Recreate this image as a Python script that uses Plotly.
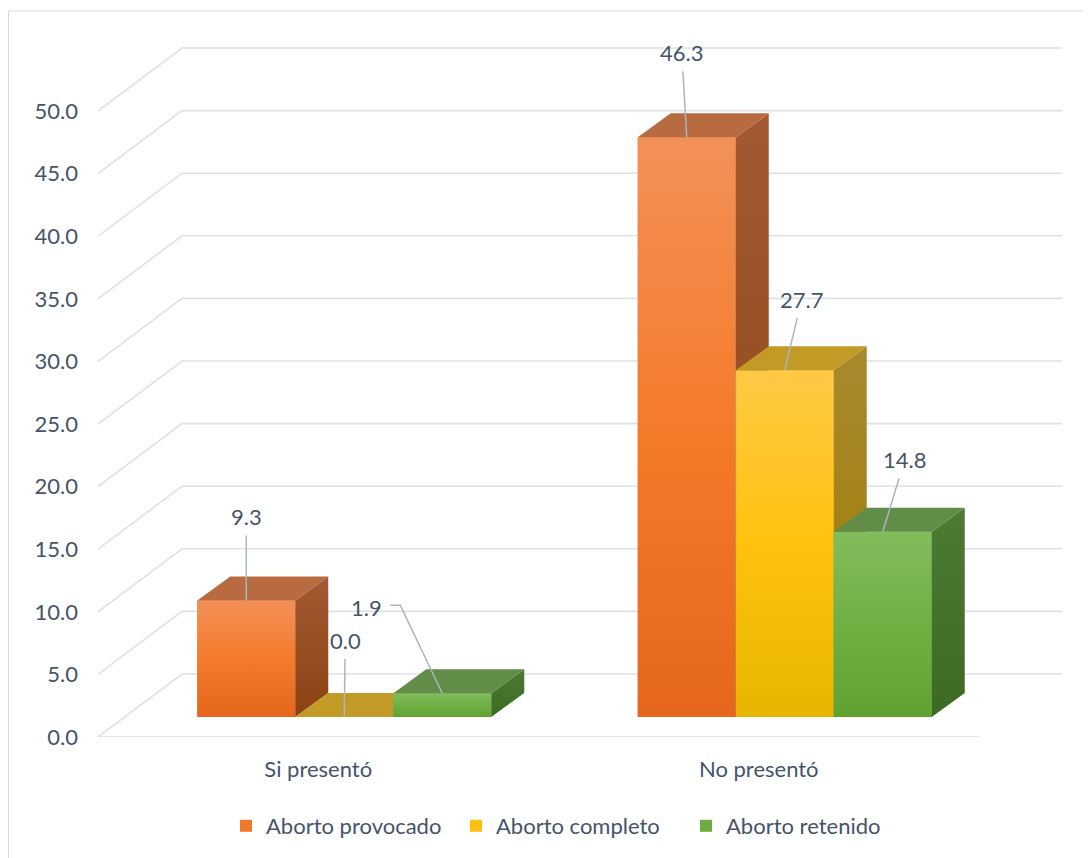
import plotly.graph_objects as go

# ---------------- data ----------------
categories = ["Si presentó", "No presentó"]
series_names = ["Aborto provocado", "Aborto completo", "Aborto retenido"]
provocado = [9.3, 46.3]
completo = [0.0, 27.7]
retenido = [1.9, 14.8]
y_ticks = [0, 5, 10, 15, 20, 25, 30, 35, 40, 45, 50]
y_tick_labels = ["0.0", "5.0", "10.0", "15.0", "20.0", "25.0", "30.0", "35.0", "40.0", "45.0", "50.0"]

series_values = [provocado, completo, retenido]

# ---------------- styling / geometry ----------------
OFF = 8                     # default page body margin
FIG_W, FIG_H = 1091 - OFF, 858 - OFF
ML, MR, MT, MB = 98 - OFF, 29, 46 - OFF, 121
PX_X = 440.5      # pixels per category unit
PX_Y = 12.52      # pixels per value unit
plot_w = FIG_W - ML - MR
plot_h = FIG_H - MT - MB
x_range = [-0.5, -0.5 + plot_w / PX_X]
y_range = [0, plot_h / PX_Y]


def px_to_paper_x(px):
    return (px - OFF - ML) / plot_w


def px_to_paper_y(py):
    return (MT + plot_h - (py - OFF)) / plot_h


WALL_DX = 84 / PX_X
WALL_DY = 63 / PX_Y
BAR_SHIFT = 26 / PX_X
BAR_W = 98 / PX_X
BAR_BASE = 20 / PX_Y
BAR_DX = 33 / PX_X
BAR_DY = 24 / PX_Y

TEXT = "#44546A"
GRID = "#DDE1E7"
LEADER = "#A9B5C4"
FONT = "Lato"
FS = 22

legend_colors = ["#F07A2C", "#FDBF12", "#6DAE43"]
front_grad = [
    [[0, "#E5661C"], [0.5, "#F47B2A"], [1, "#F39059"]],
    [[0, "#E6B500"], [0.5, "#FFC20E"], [1, "#FFC845"]],
    [[0, "#5FA232"], [0.5, "#70B044"], [1, "#82BC5C"]],
]
side_grad = [
    [[0, "#8C4212"], [1, "#A35A32"]],
    [[0, "#A07A00"], [1, "#A88A2E"]],
    [[0, "#3C6A22"], [1, "#4E7B33"]],
]
top_colors = ["#B86A40", "#C29A26", "#628D48"]

fig = go.Figure()

# legend/base bars
for j, name in enumerate(series_names):
    xs = [i + BAR_SHIFT + (j - 1) * BAR_W for i in range(len(categories))]
    fig.add_trace(go.Bar(
        x=xs, y=series_values[j], base=BAR_BASE, width=BAR_W, name=name,
        marker=dict(color=legend_colors[j], line=dict(width=0)),
        hoverinfo="skip",
    ))

# 3D faces
for i in range(len(categories)):
    for j in range(len(series_names)):
        v = series_values[j][i]
        xc = i + BAR_SHIFT + (j - 1) * BAR_W
        x0, x1 = xc - BAR_W / 2, xc + BAR_W / 2
        y0, y1 = BAR_BASE, BAR_BASE + v
        if v > 0:
            fig.add_trace(go.Scatter(
                x=[x0, x1, x1, x0, x0], y=[y0, y0, y1, y1, y0],
                mode="lines", line=dict(width=0), fill="toself",
                fillgradient=dict(type="vertical", colorscale=front_grad[j]),
                showlegend=False, hoverinfo="skip"))
            fig.add_trace(go.Scatter(
                x=[x1, x1, x1 + BAR_DX, x1 + BAR_DX, x1],
                y=[y0, y1, y1 + BAR_DY, y0 + BAR_DY, y0],
                mode="lines", line=dict(width=0), fill="toself",
                fillgradient=dict(type="vertical", colorscale=side_grad[j]),
                showlegend=False, hoverinfo="skip"))
        fig.add_trace(go.Scatter(
            x=[x0, x1, x1 + BAR_DX, x0 + BAR_DX, x0],
            y=[y1, y1, y1 + BAR_DY, y1 + BAR_DY, y1],
            mode="lines", line=dict(width=0), fill="toself",
            fillcolor=top_colors[j],
            showlegend=False, hoverinfo="skip"))

# gridlines (side wall + back wall)
shapes = []
for v in y_ticks:
    shapes.append(dict(
        type="path", xref="x", yref="y", layer="below",
        path=f"M {-0.5},{v} L {-0.5 + WALL_DX},{v + WALL_DY} L {1.5 + WALL_DX},{v + WALL_DY}",
        line=dict(color=GRID, width=1.6)))
# front floor edge
shapes.append(dict(type="line", xref="x", yref="y", layer="below",
                   x0=-0.5, x1=1.5, y0=0, y1=0, line=dict(color=GRID, width=1.6)))
# chart border
shapes.append(dict(type="rect", xref="paper", yref="paper", layer="below",
                   x0=px_to_paper_x(8.5), x1=1.2, y0=-0.4, y1=px_to_paper_y(11),
                   line=dict(color="#D9D9D9", width=1)))

# data labels
label_offsets = {
    (0, 0): (0, -84), (0, 1): (-5, -85),
    (1, 0): (1, -77), (1, 1): (17, -71),
    (2, 1): (22, -72),
}
annotations = []
for i in range(len(categories)):
    for j in range(len(series_names)):
        v = series_values[j][i]
        xc = i + BAR_SHIFT + (j - 1) * BAR_W
        yt = BAR_BASE + v
        txt = f"{v:.1f}"
        if (j, i) in label_offsets:
            ax, ay = label_offsets[(j, i)]
            annotations.append(dict(
                x=xc, y=yt, xref="x", yref="y", text=txt, showarrow=True,
                arrowhead=0, arrowwidth=1.5, arrowcolor=LEADER, ax=ax, ay=ay,
                borderpad=5, font=dict(family=FONT, size=FS, color=TEXT)))
        else:
            # elbow leader
            annotations.append(dict(
                x=xc, y=yt, xref="x", yref="y", text=txt, showarrow=False,
                xshift=-76, yshift=86, font=dict(family=FONT, size=FS, color=TEXT)))
            shapes.append(dict(
                type="path", xref="x", yref="y", layer="above",
                xsizemode="pixel", ysizemode="pixel", xanchor=xc, yanchor=yt,
                path="M 0,0 L -42,88 L -52,88",
                line=dict(color=LEADER, width=1.5)))

fig.update_layout(
    width=FIG_W, height=FIG_H,
    margin=dict(l=ML, r=MR, t=MT, b=MB, autoexpand=False),
    paper_bgcolor="white", plot_bgcolor="rgba(0,0,0,0)",
    barmode="overlay",
    font=dict(family=FONT, size=FS, color=TEXT),
    shapes=shapes, annotations=annotations,
    showlegend=True,
    legend=dict(orientation="h", x=px_to_paper_x(226), xanchor="left",
                y=px_to_paper_y(826), yanchor="middle",
                entrywidth=185, entrywidthmode="pixels",
                font=dict(family=FONT, size=FS, color=TEXT),
                bgcolor="rgba(0,0,0,0)", traceorder="normal"),
    xaxis=dict(range=x_range, tickvals=list(range(len(categories))), ticktext=categories,
               showgrid=False, zeroline=False, showline=False, ticks="",
               ticklabelstandoff=17, tickfont=dict(family=FONT, size=FS, color=TEXT),
               fixedrange=True),
    yaxis=dict(range=y_range, tickvals=y_ticks, ticktext=y_tick_labels,
               showgrid=False, zeroline=False, showline=False, ticks="",
               ticklabelstandoff=19, tickfont=dict(family=FONT, size=FS, color=TEXT),
               fixedrange=True),
)

fig.write_html("out.html")
